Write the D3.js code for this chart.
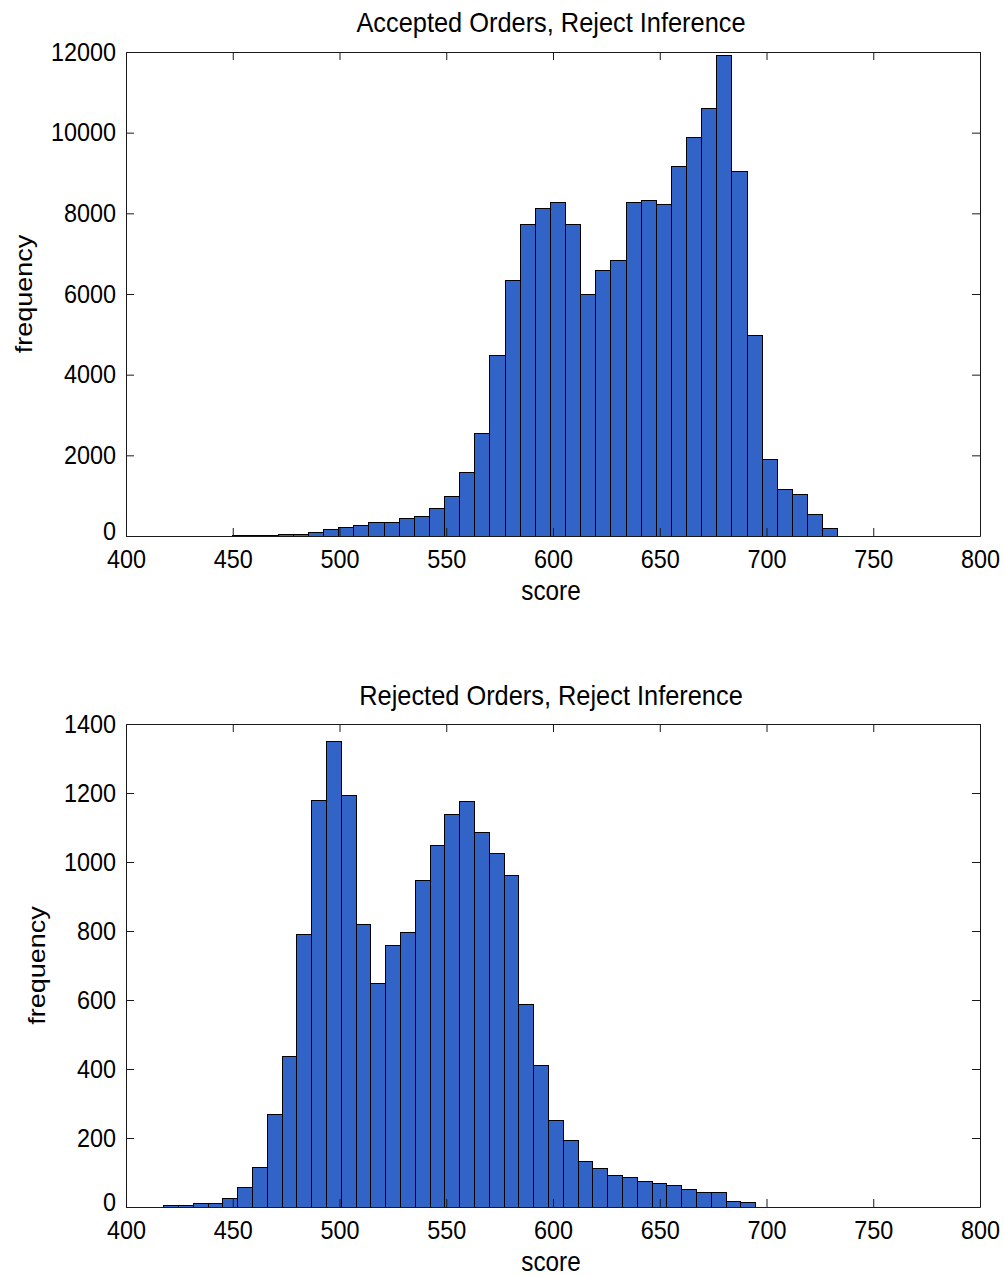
<!DOCTYPE html>
<html lang="en">
<head>
<meta charset="utf-8">
<title>Reject Inference</title>
<style>
  body { margin: 0; background: #fff; }
  svg { display: block; background: #fff; }
  text { font-family: "Liberation Sans", Arial, sans-serif; fill: #000; }
  .axis path, .axis line { stroke: #1a1a1a; stroke-width: 1; }
  .bars rect { shape-rendering: crispEdges; }
</style>
</head>
<body>
<svg id="chart" width="1004" height="1276"></svg>
<script src="https://d3js.org/d3.v7.min.js"></script>
<script>
// score axis shared by both panels
const scoreDomain = [400, 800];
const scoreTicks = [400, 450, 500, 550, 600, 650, 700, 750, 800];

// accepted orders: 40 bins between the min and max score
const acceptedRange = [450, 733.4];
const acceptedCounts = [
    10, 15, 20, 30, 45, 80, 150, 215, 250, 340,
    340, 445, 495, 685, 975, 1570, 2530, 4480, 6330, 7735,
    8115, 8265, 7735, 5985, 6575, 6820, 8265, 8315, 8230, 9155,
    9885, 10610, 11920, 9045, 4960, 1900, 1155, 1025, 545, 180
];
const acceptedTicks = [0, 2000, 4000, 6000, 8000, 10000, 12000];

// rejected orders: 40 bins
const rejectedRange = [417.7, 694.9];
const rejectedCounts = [
    5, 5, 10, 10, 24, 56, 114, 269, 435, 790,
    1177, 1349, 1194, 819, 649, 757, 797, 945, 1047, 1139,
    1176, 1086, 1024, 962, 586, 409, 250, 194, 131, 113,
    92, 85, 75, 69, 63, 51, 41, 41, 17, 12
];
const rejectedTicks = [0, 200, 400, 600, 800, 1000, 1200, 1400];

const svg = d3.select("#chart");
const fontSize = 27;
const tickFont = 26;
const squeeze = 0.9;   // the original figure text is a bit narrow
const titleSqueeze = 0.94;
const tickLen = 8;
const left = 126, right = 980;

function drawPanel(p)
{
    const g = svg.append("g");
    const x = d3.scaleLinear().domain(scoreDomain).range([left, right]);
    const y = d3.scaleLinear().domain([0, p.yTicks[p.yTicks.length - 1]]).range([p.bottom, p.top]);

    const binWidth = (p.range[1] - p.range[0]) / p.counts.length;
    const bins = p.counts.map((c, i) => ({
        x0: p.range[0] + i * binWidth,
        x1: p.range[0] + (i + 1) * binWidth,
        count: c
    }));

    g.append("g").attr("class", "bars")
        .selectAll("rect")
        .data(bins)
        .join("rect")
        .attr("x", d => x(d.x0))
        .attr("width", d => x(d.x1) - x(d.x0))
        .attr("y", d => y(d.count))
        .attr("height", d => y(0) - y(d.count))
        .attr("fill", "#3264c8")
        .attr("stroke", "#000")
        .attr("stroke-width", 1);

    const xBottom = g.append("g").attr("class", "axis")
        .attr("transform", `translate(0,${p.bottom})`)
        .call(d3.axisBottom(x).tickValues(scoreTicks).tickFormat(d3.format("d"))
            .tickSizeInner(-tickLen).tickSizeOuter(0).tickPadding(14));
    g.append("g").attr("class", "axis")
        .attr("transform", `translate(0,${p.top})`)
        .call(d3.axisTop(x).tickValues(scoreTicks).tickFormat("")
            .tickSizeInner(-tickLen).tickSizeOuter(0));
    const yLeft = g.append("g").attr("class", "axis")
        .attr("transform", `translate(${left},0)`)
        .call(d3.axisLeft(y).tickValues(p.yTicks).tickFormat(d3.format("d"))
            .tickSizeInner(-tickLen).tickSizeOuter(0).tickPadding(10));
    g.append("g").attr("class", "axis")
        .attr("transform", `translate(${right},0)`)
        .call(d3.axisRight(y).tickValues(p.yTicks).tickFormat("")
            .tickSizeInner(-tickLen).tickSizeOuter(0));

    g.selectAll(".axis").attr("font-family", null).attr("font-size", null);
    g.selectAll(".axis text").style("font-size", tickFont + "px");
    xBottom.selectAll("text").attr("transform", `scale(${squeeze},1)`);
    yLeft.selectAll("text")
        .attr("x", -10 / squeeze)
        .attr("transform", `scale(${squeeze},1)`);
    // lift the zero label a little so it clears the 400 label below it
    yLeft.selectAll(".tick").filter(d => d === 0).select("text").attr("dy", "0.12em");

    g.append("text")
        .attr("transform", `translate(${(left + right) / 2 - 2},${p.titleY}) scale(${titleSqueeze},1)`)
        .attr("text-anchor", "middle")
        .style("font-size", fontSize + "px")
        .text(p.title);

    g.append("text")
        .attr("transform", `translate(${(left + right) / 2 - 2},${p.bottom + 64}) scale(${squeeze},1)`)
        .attr("text-anchor", "middle")
        .style("font-size", fontSize + "px")
        .text("score");

    g.append("text")
        .attr("transform", `translate(${p.ylabelX},${(p.top + p.bottom) / 2}) scale(${squeeze},1) rotate(-90)`)
        .attr("text-anchor", "middle")
        .style("font-size", fontSize + "px")
        .text("frequency");
}

drawPanel({
    title: "Accepted Orders, Reject Inference",
    counts: acceptedCounts, range: acceptedRange, yTicks: acceptedTicks,
    top: 52, bottom: 536, titleY: 32, ylabelX: 32
});

drawPanel({
    title: "Rejected Orders, Reject Inference",
    counts: rejectedCounts, range: rejectedRange, yTicks: rejectedTicks,
    top: 724, bottom: 1207, titleY: 705, ylabelX: 45
});
</script>
</body>
</html>
